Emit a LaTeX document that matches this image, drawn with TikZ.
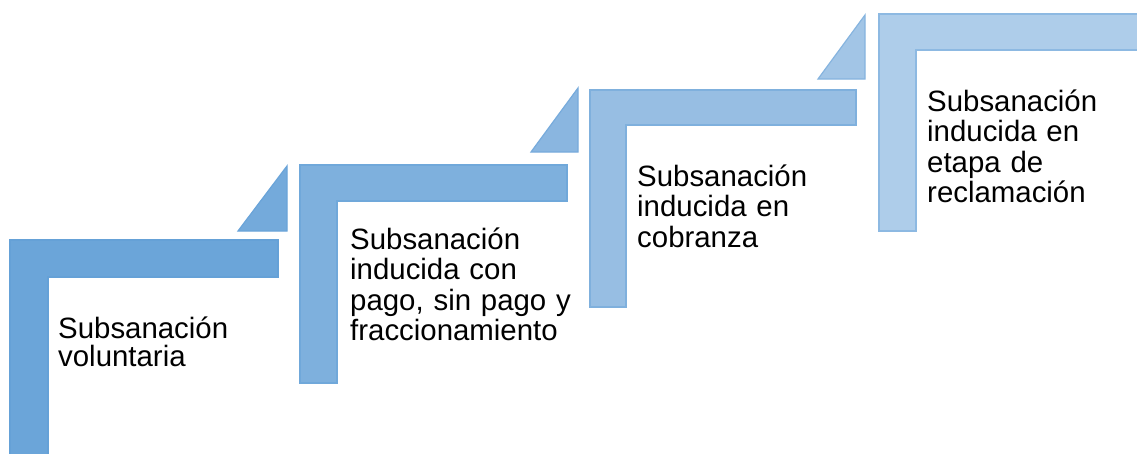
\documentclass[tikz,border=0pt]{standalone}
\usepackage{fontspec}
\setmainfont{Liberation Sans}
\definecolor{acc}{HTML}{5B9BD5}
\definecolor{fa}{HTML}{6BA5D9}
\definecolor{fb}{HTML}{7EB0DD}
\definecolor{fc}{HTML}{97BEE3}
\definecolor{fd}{HTML}{AECDEA}
\definecolor{ta}{HTML}{74AADB}
\definecolor{tb}{HTML}{8AB6E0}
\definecolor{tc}{HTML}{A2C5E6}
\tikzset{
  lshape/.style={fill=#1, draw=#1!60!acc, line width=1.2pt, line join=miter},
  tri/.style={fill=#1, draw=#1!60!acc, line width=1.2pt, line join=miter},
  lbl/.style={anchor=base west, inner sep=0pt, text width=260pt, align=left,
    font=\fontsize{29.4}{30.5}\selectfont, text=black}
}
\begin{document}
\begin{tikzpicture}[x=1pt,y=-1pt]
\clip (0,0) rectangle (1137,453);
\fill[white] (0,0) rectangle (1137,453);
% L shapes
\draw[lshape=fa] (10,240) -- (278,240) -- (278,277) -- (48,277) -- (48,470) -- (10,470) -- cycle;
\draw[lshape=fb] (300,165) -- (567,165) -- (567,201) -- (337,201) -- (337,383) -- (300,383) -- cycle;
\draw[lshape=fc] (590,90) -- (856,90) -- (856,125) -- (626,125) -- (626,307) -- (590,307) -- cycle;
\draw[lshape=fd] (879,14) -- (1150,14) -- (1150,50) -- (916,50) -- (916,231) -- (879,231) -- cycle;
% triangles
\draw[tri=ta] (287,166) -- (287,231) -- (238,231) -- cycle;
\draw[tri=tb] (578,88) -- (578,152) -- (531,152) -- cycle;
\draw[tri=tc] (865,15) -- (865,79) -- (818,79) -- cycle;
% labels
\node[lbl, font=\fontsize{29.4}{28}\selectfont] (t1) at (58,338) {Subsanación\\voluntaria};
\node[lbl] (t2) at (350,249) {Subsanación\\inducida con\\pago, sin pago y\\fraccionamiento};
\node[lbl] (t3) at (637,186) {Subsanación\\inducida en\\cobranza};
\node[lbl] (t4) at (927,111) {Subsanación\\inducida en\\etapa de\\reclamación};
\end{tikzpicture}
\end{document}
